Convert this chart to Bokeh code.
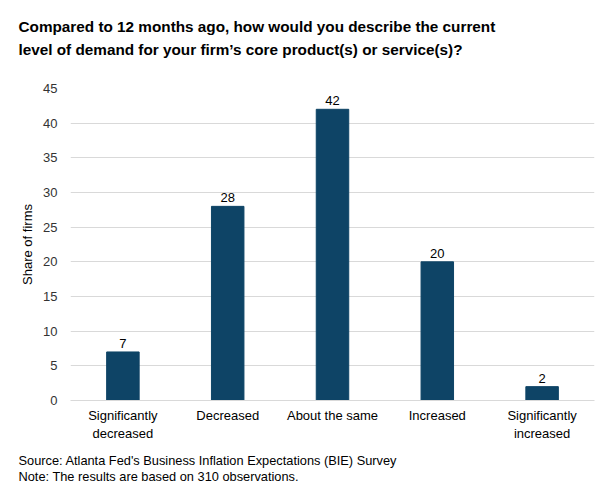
from bokeh.plotting import figure
from bokeh.models import ColumnDataSource, Title, LabelSet, FactorRange
from bokeh.core.properties import value
from bokeh.embed import file_html
from bokeh.resources import INLINE

categories = ["Significantly\ndecreased", "Decreased", "About the same", "Increased", "Significantly\nincreased"]
shares = [7, 28, 42, 20, 2]
labels = [str(v) for v in shares]
title_lines = ["Compared to 12 months ago, how would you describe the current",
               "level of demand for your firm\u2019s core product(s) or service(s)?"]
footer_lines = ["Source: Atlanta Fed's Business Inflation Expectations (BIE) Survey",
                "Note: The results are based on 310 observations."]

FONT = "Liberation Sans"
BAR = "#0e4466"

src = ColumnDataSource(dict(cat=categories, val=shares, lab=labels))

p = figure(width=612, height=500, x_range=FactorRange(*categories, range_padding=0),
           y_range=(0, 45), output_backend="svg", toolbar_location=None,
           min_border_left=70, min_border_right=18, min_border_top=87, min_border_bottom=100)
p.outline_line_color = None
p.background_fill_color = "white"
p.border_fill_color = "white"

p.vbar(x="cat", top="val", width=0.31, source=src, color=BAR)
p.add_layout(LabelSet(x="cat", y="val", text="lab", source=src, text_align="center",
                      text_baseline="bottom", y_offset=4, text_font=value(FONT),
                      text_font_size="13px", text_color="#000000"))

p.yaxis.ticker = list(range(0, 50, 5))
p.yaxis.axis_line_color = None
p.yaxis.major_tick_line_color = None
p.yaxis.minor_tick_line_color = None
p.yaxis.major_label_text_font = FONT
p.yaxis.major_label_text_font_size = "13px"
p.yaxis.major_label_text_color = "#333333"
p.yaxis.major_label_standoff = 7
p.yaxis.axis_label = "Share of firms"
p.yaxis.axis_label_text_font = FONT
p.yaxis.axis_label_text_font_size = "13px"
p.yaxis.axis_label_text_font_style = "normal"
p.yaxis.axis_label_text_color = "#000000"
p.yaxis.axis_label_standoff = 5

p.xaxis.axis_line_color = "#d9d9d9"
p.xaxis.major_tick_line_color = None
p.xaxis.minor_tick_line_color = None
p.xaxis.major_label_text_font = FONT
p.xaxis.major_label_text_font_size = "13px"
p.xaxis.major_label_text_color = "#000000"
p.xaxis.major_label_standoff = 1

p.xgrid.grid_line_color = None
p.ygrid.grid_line_color = "#d9d9d9"

# spacer between title block and plot frame
p.add_layout(Title(text=" ", text_font_size="1px", standoff=12), "above")
p.add_layout(Title(text="\n".join(title_lines), align="left", offset=-52, text_font=FONT,
                   text_font_size="15.3px", text_font_style="bold", text_line_height=1.4,
                   text_color="#000000", standoff=30), "above")

p.add_layout(Title(text="\n".join(footer_lines), align="left", offset=-52, text_font=FONT,
                   text_font_size="12.8px", text_font_style="normal", text_line_height=1.05,
                   text_color="#000000", standoff=14), "below")

open("out.html", "w").write(file_html(p, INLINE))
